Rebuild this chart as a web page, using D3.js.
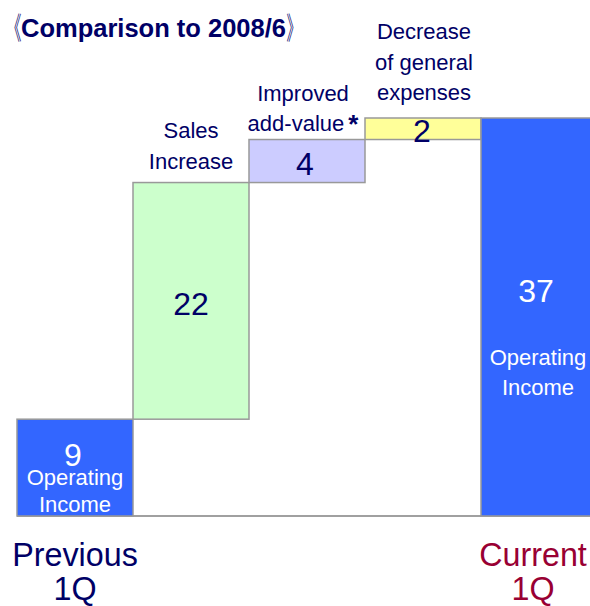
<!DOCTYPE html>
<html>
<head>
<meta charset="utf-8">
<script src="https://cdn.jsdelivr.net/npm/d3@7"></script>
<style>
  body { margin: 0; background: #fff; }
  svg text { font-family: "Liberation Sans", Arial, sans-serif; }
</style>
</head>
<body>
<svg id="chart" width="590" height="606"></svg>
<script>
// waterfall: previous 1Q -> three increments -> current 1Q
var steps = ["prev", "sales", "addvalue", "expenses", "current"];
var values = [9, 22, 4, 2, 37];
var kinds = ["total", "delta", "delta", "delta", "total"];
var fills = ["#3366ff", "#ccffcc", "#ccccff", "#ffff99", "#3366ff"];
var topLabels = [[], ["Sales", "Increase"], ["Improved", "add-value"], ["Decrease", "of general", "expenses"], []];
var bottomLabels = [["Previous", "1Q"], [], [], [], ["Current", "1Q"]];

var svg = d3.select("#chart");
var navy = "#000066";

var x = d3.scaleBand().domain(steps).range([17, 17 + 116 * 5]).padding(0);
var y = d3.scaleLinear().domain([0, 37]).range([516, 118]);

// work out where each bar starts and ends
var bars = [];
var running = 0;
for (var i = 0; i < steps.length; i++) {
    var lo, hi;
    if (kinds[i] == "total") { lo = 0; hi = values[i]; running = values[i]; }
    else { lo = running; hi = running + values[i]; running = hi; }
    bars.push({ key: steps[i], lo: lo, hi: hi, value: values[i], fill: fills[i], kind: kinds[i] });
}

function mid(key) { return x(key) + x.bandwidth() / 2; }

// baseline
svg.append("line")
    .attr("x1", x.range()[0]).attr("x2", 590)
    .attr("y1", y(0)).attr("y2", y(0))
    .attr("stroke", "#a0a0a0").attr("stroke-width", 2);

svg.selectAll("rect.bar").data(bars).enter().append("rect")
    .attr("class", "bar")
    .attr("x", function (d) { return x(d.key); })
    .attr("y", function (d) { return y(d.hi); })
    .attr("width", x.bandwidth())
    .attr("height", function (d) { return y(d.lo) - y(d.hi); })
    .attr("fill", function (d) { return d.fill; })
    .attr("stroke", "#999")
    .attr("stroke-width", 1.5);

// value numbers
var valueY = { prev: 466, sales: 315, addvalue: 175, expenses: 142, current: 302 };
var valueDx = { prev: -2, sales: 0, addvalue: -2, expenses: -1, current: -3 };
svg.selectAll("text.val").data(bars).enter().append("text")
    .attr("class", "val")
    .attr("x", function (d) { return mid(d.key) + valueDx[d.key]; })
    .attr("y", function (d) { return valueY[d.key]; })
    .attr("text-anchor", "middle")
    .attr("font-size", 32)
    .attr("fill", function (d) { return d.kind == "total" ? "#fff" : navy; })
    .text(function (d) { return d.value; });

// "Operating Income" inside the blue bars
var inner = [{ key: "prev", y: 485, gap: 27 }, { key: "current", y: 365, gap: 30 }];
inner.forEach(function (t) {
    var cx = mid(t.key) + (t.key == "current" ? -1 : 0);
    var g = svg.append("text")
        .attr("text-anchor", "middle")
        .attr("font-size", 22)
        .attr("fill", "#fff");
    g.append("tspan").attr("x", cx).attr("y", t.y).text("Operating");
    g.append("tspan").attr("x", cx).attr("y", t.y + t.gap).text("Income");
});

// category labels above the step bars
var labelGap = [0, 14, 8.5, 18, 0];
var labelDx = [0, 0, -4, 1, 0];
topLabels.forEach(function (lines, i) {
    if (!lines.length) return;
    var cx = mid(steps[i]) + labelDx[i];
    var base = y(bars[i].hi) - labelGap[i];
    var n = lines.length;
    lines.forEach(function (s, k) {
        var t = svg.append("text")
            .attr("x", cx).attr("y", base - (n - 1 - k) * 30.5)
            .attr("text-anchor", "middle")
            .attr("font-size", 22)
            .attr("fill", navy)
            .text(s);
        if (steps[i] == "addvalue" && k == 1) {
            t.append("tspan").attr("font-size", 26).attr("font-weight", "bold")
                .attr("dx", 4).attr("dy", 2).text("*");
        }
    });
});

// Previous / Current under the axis
bottomLabels.forEach(function (lines, i) {
    if (!lines.length) return;
    var cx = mid(steps[i]) + (i == 4 ? -6 : 0);
    lines.forEach(function (s, k) {
        svg.append("text")
            .attr("transform", "translate(" + cx + "," + (566 + k * 34) + ") scale(0.95,1)")
            .attr("text-anchor", "middle")
            .attr("font-size", 34)
            .attr("fill", i == 0 ? navy : "#990033")
            .text(s);
    });
});

// title with narrow double angle brackets
svg.append("text")
    .attr("transform", "translate(5,39) scale(0.55,1.05)")
    .attr("font-family", "Noto Sans CJK JP")
    .attr("font-size", 30).attr("fill", navy)
    .text("《");
svg.append("text")
    .attr("x", 21).attr("y", 37)
    .attr("font-size", 25.5).attr("font-weight", "bold")
    .attr("fill", navy)
    .text("Comparison to 2008/6");
svg.append("text")
    .attr("transform", "translate(286,39) scale(0.55,1.05)")
    .attr("font-family", "Noto Sans CJK JP")
    .attr("font-size", 30).attr("fill", navy)
    .text("》");
</script>
</body>
</html>
